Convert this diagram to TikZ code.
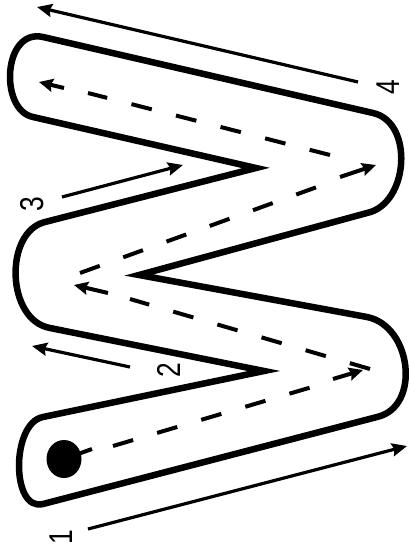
\documentclass[tikz,border=0pt]{standalone}
\usepackage{fontspec}
\setmainfont{Liberation Sans}
\usetikzlibrary{arrows.meta}
\begin{document}
\begin{tikzpicture}[x=1pt,y=-1pt,
  outline/.style={line width=6.5pt,line join=miter,miter limit=10},
  dashpart/.style={line width=4pt,dash pattern=on 21pt off 25pt},
  dashhead/.style={line width=4pt,-{Stealth[length=14pt,width=13pt,inset=2pt]}},
  solidarrow/.style={line width=3.2pt,-{Stealth[length=15pt,width=13pt,inset=2pt]}},
  lbl/.style={font=\fontsize{33}{33}\selectfont,rotate=90,inner sep=0pt,xscale=0.8}]
\useasboundingbox (0,0) rectangle (408,548);
% outline of the zigzag track
\draw[outline] (43,37) -- (373,113)
  .. controls (414,122) and (409,204) .. (367,213)
  -- (139,275) -- (367,317)
  .. controls (412,326) and (421,407) .. (377,417)
  -- (43,504)
  .. controls (11,512) and (11,423) .. (43,417)
  -- (264,371) -- (50,328)
  .. controls (6,320) and (4,232) .. (45,222)
  -- (256,168) -- (33,117)
  .. controls (-1,110) and (3,28) .. cycle;
% start dot
\fill (64,459) circle[x radius=17.5pt,y radius=19pt];
\draw[line width=4pt] (64,459) -- (92,449);
% dashed paths
\coordinate (s1a) at (113,446); \coordinate (s1b) at (312,387);
\coordinate (s1c) at (333,379); \coordinate (s1d) at (363,370);
\draw[dashpart] (s1a) -- (s1b);
\draw[dashhead] (s1c) -- (s1d);
\coordinate (s2a) at (370,369); \coordinate (s2b) at (130,299);
\coordinate (s2c) at (108,293); \coordinate (s2d) at (74,285);
\draw[dashpart] (s2a) -- (s2b);
\draw[dashhead] (s2c) -- (s2d);
\coordinate (s3a) at (80,273); \coordinate (s3b) at (317,187);
\coordinate (s3c) at (340,177); \coordinate (s3d) at (376,165);
\draw[dashpart] (s3a) -- (s3b);
\draw[dashhead] (s3c) -- (s3d);
\coordinate (s4a) at (330,155); \coordinate (s4b) at (88,93);
\coordinate (s4c) at (64,88); \coordinate (s4d) at (39,82);
\draw[dashpart] (s4a) -- (s4b);
\draw[dashhead] (s4c) -- (s4d);
% outer solid arrows
\coordinate (a1s) at (88,529); \coordinate (a1e) at (407,446);
\coordinate (a2s) at (130,367); \coordinate (a2e) at (32,346);
\coordinate (a3s) at (62,197); \coordinate (a3e) at (183,165);
\coordinate (a4s) at (358,82); \coordinate (a4e) at (37,7);
\draw[solidarrow] (a1s) -- (a1e);
\draw[solidarrow] (a2s) -- (a2e);
\draw[solidarrow] (a3s) -- (a3e);
\draw[solidarrow] (a4s) -- (a4e);
% labels
\node[lbl] (l1) at (61,537) {1};
\node[lbl] (l2) at (169,370) {2};
\node[lbl] (l3) at (32,204) {3};
\node[lbl] (l4) at (388,87) {4};
\end{tikzpicture}
\end{document}
